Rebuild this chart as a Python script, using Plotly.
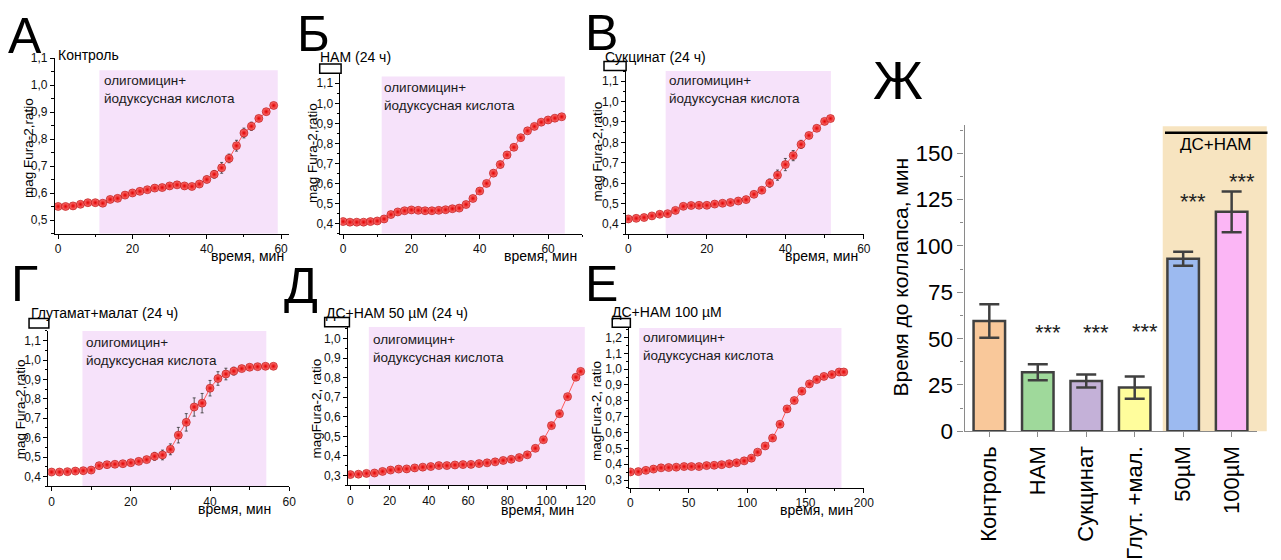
import plotly.graph_objects as go

W, H = 1281, 560
FONT = "Liberation Sans"

# ---------------- data ----------------
# Panel А (Контроль)
a_t = [0, 2, 4, 6, 8, 10, 12, 14, 16, 18, 20, 22, 24, 26, 28, 30, 32, 34, 36, 38, 40, 42, 44, 46, 48, 50, 52, 54, 56, 58]
a_y = [0.551, 0.551, 0.553, 0.559, 0.565, 0.565, 0.563, 0.577, 0.581, 0.593, 0.601, 0.607, 0.613, 0.619, 0.621,
       0.627, 0.631, 0.627, 0.625, 0.634, 0.651, 0.670, 0.694, 0.729, 0.776, 0.823, 0.848, 0.877, 0.902, 0.925]
a_e = [0.004, 0.004, 0.004, 0.004, 0.004, 0.004, 0.004, 0.005, 0.005, 0.005, 0.005, 0.005, 0.005, 0.005, 0.005,
       0.005, 0.005, 0.005, 0.005, 0.006, 0.012, 0.014, 0.02, 0.016, 0.02, 0.018, 0.015, 0.01, 0.008, 0.006]

# Panel Б (НАМ)
b_t = [0, 2, 4, 6, 8, 10, 12, 14, 16, 18, 20, 22, 24, 26, 28, 30, 32, 34, 36, 38, 40, 42, 44, 46, 48, 50, 52, 54, 56, 58, 60, 62, 64]
b_y = [0.411, 0.408, 0.408, 0.408, 0.411, 0.414, 0.424, 0.446, 0.459, 0.465, 0.469, 0.467, 0.465, 0.465, 0.467, 0.470,
       0.475, 0.478, 0.496, 0.526, 0.563, 0.601, 0.652, 0.695, 0.743, 0.781, 0.829, 0.863, 0.885, 0.906, 0.917, 0.926, 0.933]
b_e = [0.005] * 18 + [0.008, 0.01, 0.012, 0.014, 0.015, 0.016, 0.016, 0.015, 0.012, 0.01, 0.008, 0.006, 0.006, 0.005, 0.005]

# Panel В (Сукцинат)
c_t = [0, 2, 4, 6, 8, 10, 12, 14, 16, 18, 20, 22, 24, 26, 28, 30, 32, 34, 36, 38, 40, 42, 44, 46, 48, 50, 51.5]
c_y = [0.424, 0.427, 0.431, 0.439, 0.447, 0.450, 0.466, 0.486, 0.490, 0.491, 0.491, 0.497, 0.501, 0.505, 0.512,
       0.519, 0.545, 0.565, 0.600, 0.639, 0.691, 0.735, 0.790, 0.834, 0.869, 0.903, 0.917]
c_e = [0.005] * 16 + [0.008, 0.012, 0.02, 0.025, 0.03, 0.025, 0.02, 0.012, 0.008, 0.006, 0.005]

# Panel Г (Глутамат+малат)
d_t = [0, 2, 4, 6, 8, 10, 12, 14, 16, 18, 20, 22, 24, 26, 28, 30, 32, 34, 36, 38, 40, 42, 44, 46, 48, 50, 52, 54, 56]
d_y = [0.423, 0.423, 0.425, 0.428, 0.430, 0.433, 0.456, 0.461, 0.463, 0.466, 0.471, 0.478, 0.487, 0.504, 0.511,
       0.540, 0.613, 0.679, 0.758, 0.778, 0.855, 0.905, 0.928, 0.943, 0.956, 0.963, 0.966, 0.968, 0.968]
d_e = [0.004] * 12 + [0.008, 0.02, 0.025, 0.028, 0.04, 0.045, 0.047, 0.05, 0.04, 0.035, 0.03, 0.02, 0.015, 0.008, 0.005, 0.004, 0.004]

# Panel Д (ДС+НАМ 50 µM)
e_t = [0, 4.1, 8.2, 12.3, 16.4, 20.5, 24.6, 28.7, 32.8, 36.9, 41.0, 45.1, 49.2, 53.3, 57.4, 61.5, 65.6, 69.7,
       73.8, 77.9, 82.0, 86.1, 90.2, 94.3, 98.4, 102.5, 106.6, 110.7, 115.0, 117.4]
e_y = [0.305, 0.307, 0.311, 0.313, 0.321, 0.328, 0.333, 0.334, 0.339, 0.343, 0.346, 0.351, 0.351, 0.354, 0.356,
       0.357, 0.361, 0.365, 0.370, 0.377, 0.383, 0.392, 0.406, 0.439, 0.483, 0.555, 0.616, 0.703, 0.802, 0.832]
e_e = [0.004] * 30

# Panel Е (ДС+НАМ 100 µM)
f_t = [0, 6.8, 13.3, 19.8, 26.3, 32.8, 39.3, 46.0, 52.3, 58.8, 65.3, 71.8, 78.2, 84.7, 91.0, 97.5, 103.7, 109.0,
       115.5, 121.8, 128.2, 134.2, 140.4, 146.9, 153.4, 159.6, 165.8, 172.6, 178.8, 182.8]
f_y = [0.351, 0.353, 0.361, 0.369, 0.377, 0.379, 0.381, 0.385, 0.385, 0.385, 0.391, 0.393, 0.397, 0.403, 0.409,
       0.421, 0.438, 0.476, 0.515, 0.565, 0.652, 0.749, 0.802, 0.861, 0.907, 0.934, 0.954, 0.966, 0.982, 0.982]
f_e = [0.004] * 30

# Panel Ж (bar chart)
bar_cats = ["Контроль", "НАМ", "Сукцинат", "Глут. +мал.", "50µM", "100µM"]
bar_vals = [59.5, 31.9, 27.2, 23.6, 93.1, 118.4]
bar_errs = [9.0, 4.3, 3.5, 6.0, 3.8, 11.0]
bar_colors = ["#F9C89A", "#9FD99B", "#C4B1D8", "#FFFD9C", "#9CBAF0", "#FBB6F5"]
bar_stars = ["", "***", "***", "***", "***", "***"]
star_level = [0, 53.4, 53.4, 53.8, 123.8, 135.0]

# ---------------- helpers ----------------
def px(x):
    return x / W


def py(y):
    return 1 - y / H


fig = go.Figure()
annotations = []
shapes = []


def ann(text, x, y, size, xanchor="left", yanchor="middle", angle=0, color="black"):
    annotations.append(dict(text=text, x=px(x), y=py(y), xref="paper", yref="paper", showarrow=False,
                            xanchor=xanchor, yanchor=yanchor, textangle=angle, align="left",
                            font=dict(family=FONT, size=size, color=color)))


SHADE = "#F6E2FA"

panels = [
    dict(t=a_t, y=a_y, e=a_e, xd=(53.3, 290), yd=(53.3, 236), xr=(-0.9, 62.2), yr=(0.45, 1.1), xdt=20, ydt=0.1,
         sh=(11.1, 59.1, 1.055), title="mag Fura-2,ratio", tx=26, ty=147, xt=(287, 259),
         lab="А", lab_xy=(4, 30), sub="Контроль", sub_xy=(55, 50), box=None, txt_xy=(101, 67)),
    dict(t=b_t, y=b_y, e=b_e, xd=(341.7, 585.7), yd=(68.9, 236.1), xr=(-0.76, 70), yr=(0.35, 1.15), xdt=20, ydt=0.1,
         sh=(11.3, 64.9, 1.133), title="mag Fura-2,ratio", tx=313, ty=152, xt=(582, 259),
         lab="Б", lab_xy=(296, 28), sub="НАМ (24 ч)", sub_xy=(319, 52.5), box=(320.7, 59.3, 342.3, 69),
         txt_xy=(384, 73.5)),
    dict(t=c_t, y=c_y, e=c_e, xd=(630, 870), yd=(66.7, 236.3), xr=(-0.58, 60), yr=(0.35, 1.15), xdt=20, ydt=0.1,
         sh=(9.5, 51.6, 1.15), title="mag Fura-2,ratio", tx=601, ty=150, xt=(866, 259),
         lab="В", lab_xy=(586, 27), sub="Сукцинат (24 ч)", sub_xy=(607, 52), box=(607.7, 56.7, 630, 66),
         txt_xy=(671, 66.5)),
    dict(t=d_t, y=d_y, e=d_e, xd=(46.7, 290), yd=(337.2, 498.8), xr=(-0.83, 60), yr=(0.35, 1.15), xdt=20, ydt=0.1,
         sh=(7.8, 54.2, 1.15), title="mag Fura-2,ratio", tx=19, ty=419, xt=(274, 522.5),
         lab="Г", lab_xy=(7, 288), sub="Глутамат+малат (24 ч)", sub_xy=(27.5, 318.5), box=(27.3, 324.3, 47.3, 334),
         txt_xy=(82.5, 339)),
    dict(t=e_t, y=e_y, e=e_e, xd=(349.3, 589.3), yd=(332.8, 497.9), xr=(-1.2, 120), yr=(0.25, 1.06), xdt=20, ydt=0.1,
         sh=(9.4, 119.5, 1.06), title="magFura-2, ratio", tx=318, ty=418, xt=(579, 523.5),
         lab="Д", lab_xy=(283, 290), sub="ДС+НАМ 50 µM (24 ч)", sub_xy=(325, 318), box=(325.7, 323.3, 350.7, 332.7),
         txt_xy=(372, 336)),
    dict(t=f_t, y=f_y, e=f_e, xd=(633.3, 870), yd=(334.1, 500.6), xr=(-0.85, 200), yr=(0.25, 1.26), xdt=50, ydt=0.1,
         sh=(7.6, 180.8, 1.26), title="magFura-2, ratio", tx=600, ty=420, xt=(861, 524),
         lab="Е", lab_xy=(586, 288), sub="ДС+НАМ 100 µM", sub_xy=(614, 317), box=(616, 324.3, 634.3, 333.3),
         txt_xy=(645, 334)),
]

layout_axes = {}
for i, p in enumerate(panels, start=1):
    xa = "x" if i == 1 else f"x{i}"
    ya = "y" if i == 1 else f"y{i}"
    shapes.append(dict(type="rect", xref=xa, yref=ya, x0=p["sh"][0], x1=p["sh"][1], y0=p["yr"][0], y1=p["sh"][2],
                       fillcolor=SHADE, line=dict(width=0), layer="below"))
    fig.add_trace(go.Scatter(
        x=p["t"], y=p["y"], xaxis=xa, yaxis=ya, mode="lines+markers",
        line=dict(color="#FF5A5A", width=1),
        marker=dict(size=8, color="#FF7A7A", gradient=dict(type="radial", color="#E00000"),
                    line=dict(color="#B00000", width=0.6)),
        error_y=dict(type="data", array=p["e"], visible=True, color="#333333", thickness=0.8, width=1.5),
        showlegend=False, hoverinfo="skip"))
    axis_common = dict(showline=True, linecolor="black", linewidth=1, ticks="outside", ticklen=4,
                       tickcolor="black", showgrid=False, zeroline=False,
                       tickfont=dict(family=FONT, size=12, color="#111"))
    layout_axes["xaxis" if i == 1 else f"xaxis{i}"] = dict(
        domain=[px(p["xd"][0]), px(p["xd"][1])], range=list(p["xr"]), anchor=ya, dtick=p["xdt"], tick0=0,
        minor=dict(ticks="outside", ticklen=2.5, dtick=p["xdt"] / 2, tickcolor="black"), **axis_common)
    layout_axes["yaxis" if i == 1 else f"yaxis{i}"] = dict(
        domain=[py(p["yd"][1]), py(p["yd"][0])], range=list(p["yr"]), anchor=xa, dtick=p["ydt"], tick0=0,
        tickformat=".1f",
        minor=dict(ticks="outside", ticklen=2.5, dtick=p["ydt"] / 2, tickcolor="black"), **axis_common)
    ann(p["title"], p["tx"], p["ty"], 13.5, xanchor="center", angle=-90)
    ann("время, мин", p["xt"][0], p["xt"][1], 14, xanchor="right")
    ann(p["lab"], p["lab_xy"][0], p["lab_xy"][1], 50)
    ann(p["sub"], p["sub_xy"][0], p["sub_xy"][1], 14)
    ann("олигомицин+<br>йодуксусная кислота", p["txt_xy"][0], p["txt_xy"][1], 13.5, yanchor="top", color="#1a1a1a")
    if p["box"]:
        bx0, by0, bx1, by1 = p["box"]
        shapes.append(dict(type="rect", xref="paper", yref="paper", x0=px(bx0), x1=px(bx1), y0=py(by1), y1=py(by0),
                           line=dict(color="black", width=1.5), fillcolor="rgba(0,0,0,0)"))

# ---------------- bar panel Ж ----------------
shapes.append(dict(type="rect", xref="paper", yref="paper", x0=px(1171.7), x1=px(1276.7), y0=py(441.7), y1=py(124),
                   fillcolor="#F7E4C0", line=dict(width=0), layer="below"))
shapes.append(dict(type="line", xref="paper", yref="paper", x0=px(1174), x1=px(1277.5), y0=py(131), y1=py(131),
                   line=dict(color="black", width=2.5)))
ann("ДС+НАМ", 1225, 143, 17, xanchor="center")
ann("Ж", 877, 76, 54)

fig.add_trace(go.Bar(
    x=bar_cats, y=bar_vals, xaxis="x7", yaxis="y7", width=0.65,
    marker=dict(color=bar_colors, line=dict(color="#404040", width=2.5)),
    error_y=dict(type="data", array=bar_errs, visible=True, color="#404040", thickness=2.5, width=10),
    showlegend=False, hoverinfo="skip"))

for cat, s, lvl in zip(bar_cats, bar_stars, star_level):
    if s:
        annotations.append(dict(text=s, x=cat, y=lvl, xref="x7", yref="y7", showarrow=False, xshift=10,
                                yanchor="middle", xanchor="center",
                                font=dict(family=FONT, size=22, color="#222")))

layout_axes["xaxis7"] = dict(domain=[px(971.7), px(1266.7)], anchor="y7", range=[-0.51, 5.52],
                             showline=True, linecolor="#8a8a8a", linewidth=1.2, ticks="outside", ticklen=5,
                             tickcolor="#8a8a8a", tickangle=-90, showgrid=False, zeroline=False,
                             tickfont=dict(family=FONT, size=22, color="black"))
layout_axes["yaxis7"] = dict(domain=[py(441.7), py(123.3)], anchor="x7", range=[0, 165], dtick=25,
                             showline=True, linecolor="#8a8a8a", linewidth=1.2, ticks="outside", ticklen=6,
                             tickcolor="#8a8a8a", showgrid=False, zeroline=False,
                             minor=dict(ticks="outside", ticklen=3, dtick=12.5, tickcolor="#8a8a8a"),
                             tickfont=dict(family=FONT, size=22.5, color="black"))
ann("Время до коллапса, мин", 907, 281, 21, xanchor="center", angle=-90)

fig.update_layout(
    width=W, height=H, margin=dict(l=0, r=0, t=0, b=0),
    paper_bgcolor="white", plot_bgcolor="rgba(0,0,0,0)",
    separators=", ", annotations=annotations, shapes=shapes,
    font=dict(family=FONT, color="black"),
    **layout_axes)

POST = ("document.documentElement.style.overflow='hidden';"
        "document.body.style.margin='0';document.body.style.overflow='hidden';"
        "var gd=document.getElementsByClassName('plotly-graph-div')[0];"
        "gd.style.position='fixed';gd.style.left='0px';gd.style.top='0px';")

fig.write_html("out.html", config={"displayModeBar": False}, post_script=POST)
